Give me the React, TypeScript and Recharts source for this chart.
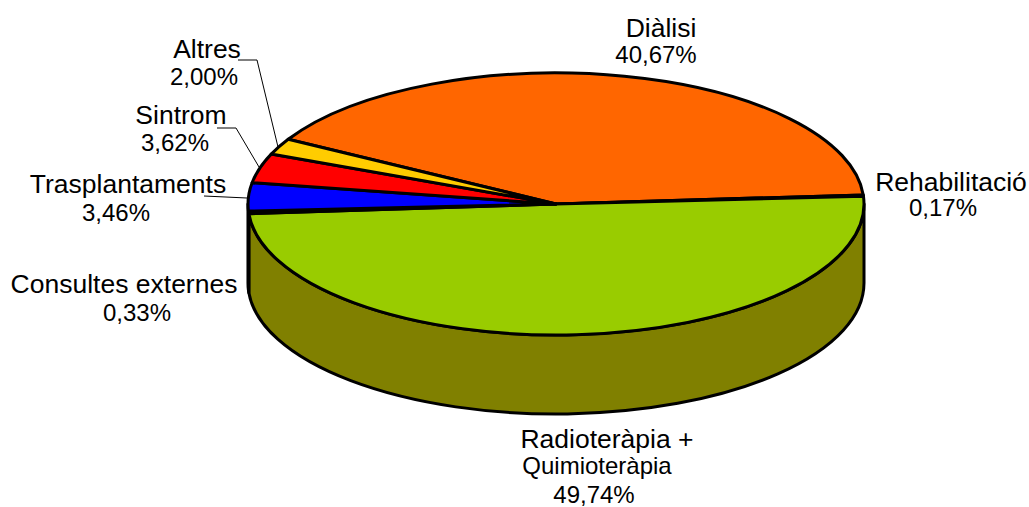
import { Pie, PieChart } from "recharts";

const categories = ["Diàlisi", "Rehabilitació", "Radioteràpia +", "Consultes externes", "Trasplantaments", "Sintrom", "Altres"];
const shares = [40.67, 0.17, 49.74, 0.33, 3.46, 3.62, 2.0];
const topColors = ["#ff6600", "#000000", "#99cc00", "#000000", "#0000ff", "#ff0000", "#ffcc00"];
const wallColors = ["#803300", "#000000", "#808000", "#000000", "#000080", "#800000", "#806600"];

const rows = categories.map((name, i) => ({
  name,
  value: shares[i],
  fill: topColors[i],
  wall: wallColors[i],
}));

const WIDTH = 1029;
const HEIGHT = 507;
const CX = 556;
const CY = 204;
const RX = 308;
const TILT = 131 / 308;
const DEPTH = 79;
const START = 150.4;
const FONT = "'Liberation Sans', Arial, sans-serif";

// where each label sits: name x/y, percent x/y, leader line
const labelSpots = [
  { nx: 661, ny: 37, px: 656, py: 63, line: "" },
  { nx: 951, ny: 191, px: 943, py: 216, line: "" },
  { nx: 607, ny: 448, px: 594, py: 503, line: "" },
  { nx: 124, ny: 293, px: 137, py: 321, line: "" },
  { nx: 128, ny: 193, px: 116, py: 221, line: "M204 196L247 198" },
  { nx: 181, ny: 124, px: 175, py: 151, line: "M217 128H236L259 167" },
  { nx: 207, ny: 58, px: 204, py: 85, line: "M238 60H257L278 147" },
];

const RAD = Math.PI / 180;

function onEllipse(cx: number, cy: number, rx: number, deg: number) {
  return [cx + rx * Math.cos(deg * RAD), cy - rx * TILT * Math.sin(deg * RAD)];
}

function TopSlice(props: any) {
  const { cx, cy, outerRadius, startAngle, endAngle, fill } = props;
  const ry = outerRadius * TILT;
  const [x1, y1] = onEllipse(cx, cy, outerRadius, startAngle);
  const [x2, y2] = onEllipse(cx, cy, outerRadius, endAngle);
  const large = Math.abs(startAngle - endAngle) > 180 ? 1 : 0;
  const d = `M${cx} ${cy}L${x1} ${y1}A${outerRadius} ${ry} 0 ${large} 1 ${x2} ${y2}Z`;
  return <path d={d} fill={fill} stroke="#000" strokeWidth={3} strokeLinejoin="round" />;
}

// only the part of a slice facing the viewer (angles 0 to -180) gets a side wall
function WallSlice(props: any) {
  const { cx, cy, outerRadius, startAngle, endAngle } = props;
  const wall = props.wall ?? props.payload?.wall;
  const ry = outerRadius * TILT;
  const ranges = [
    [Math.min(startAngle, 0), Math.max(endAngle, -180)],
    [Math.min(startAngle + 360, 0), Math.max(endAngle + 360, -180)],
  ].filter(([a, b]) => a > b);
  if (!ranges.length) return <g />;
  return (
    <g>
      {ranges.map(([a, b]) => {
        const [x1, y1] = onEllipse(cx, cy, outerRadius, a);
        const [x2, y2] = onEllipse(cx, cy, outerRadius, b);
        const d =
          `M${x1} ${y1}A${outerRadius} ${ry} 0 0 1 ${x2} ${y2}` +
          `L${x2} ${y2 + DEPTH}A${outerRadius} ${ry} 0 0 0 ${x1} ${y1 + DEPTH}Z`;
        return <path key={a} d={d} fill={wall} stroke="#000" strokeWidth={3} strokeLinejoin="round" />;
      })}
    </g>
  );
}

function SliceLabel(props: any) {
  const { index } = props;
  const spot = labelSpots[index];
  const percent = shares[index].toFixed(2).replace(".", ",") + "%";
  const textProps = { fill: "#000", fontFamily: FONT, textAnchor: "middle" as const };
  return (
    <g>
      {spot.line && <path d={spot.line} fill="none" stroke="#000" strokeWidth={1} />}
      <text x={spot.nx} y={spot.ny} {...textProps} fontSize={26.5}>
        {categories[index]}
      </text>
      {index === 2 && (
        <text x={597} y={474} {...textProps} fontSize={24}>
          Quimioteràpia
        </text>
      )}
      <text x={spot.px} y={spot.py} {...textProps} fontSize={24}>
        {percent}
      </text>
    </g>
  );
}

export default function App() {
  return (
    <div style={{ position: "absolute", left: 0, top: 0, width: WIDTH, height: HEIGHT, background: "#fff" }}>
      <PieChart width={WIDTH} height={HEIGHT} margin={{ top: 0, right: 0, bottom: 0, left: 0 }}>
        <Pie
          data={rows}
          dataKey="value"
          cx={CX}
          cy={CY}
          outerRadius={RX}
          startAngle={START}
          endAngle={START - 360}
          shape={WallSlice}
          labelLine={false}
          isAnimationActive={false}
        />
        <Pie
          data={rows}
          dataKey="value"
          cx={CX}
          cy={CY}
          outerRadius={RX}
          startAngle={START}
          endAngle={START - 360}
          shape={TopSlice}
          label={SliceLabel}
          labelLine={false}
          isAnimationActive={false}
        />
      </PieChart>
    </div>
  );
}
